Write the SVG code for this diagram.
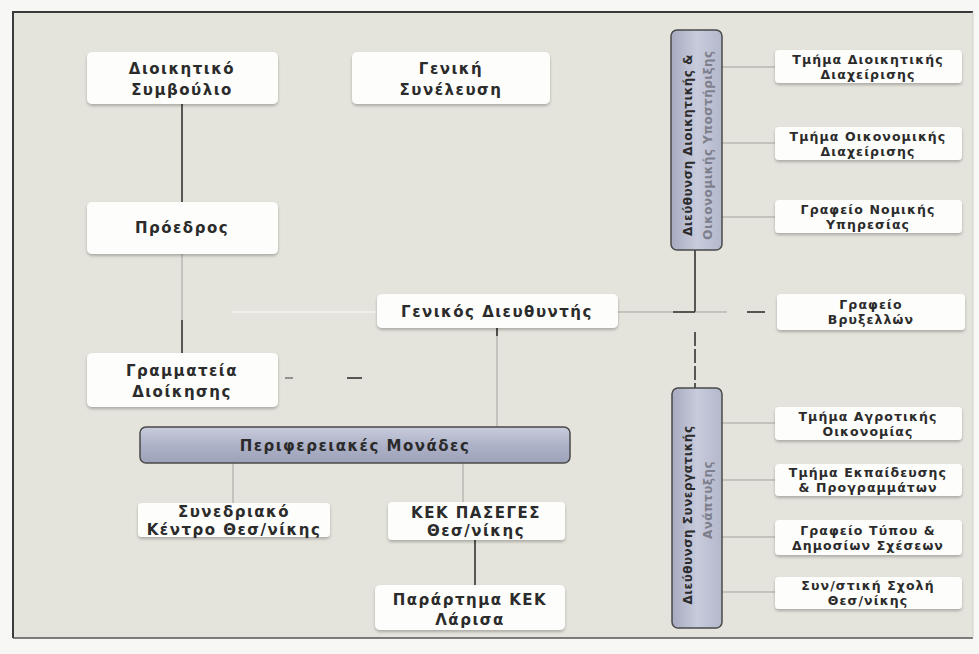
<svg xmlns="http://www.w3.org/2000/svg" width="979" height="654" viewBox="0 0 979 654">
<defs>
<linearGradient id="barH" x1="0" y1="0" x2="0" y2="1">
<stop offset="0" stop-color="#c9ccdc"/>
<stop offset="0.5" stop-color="#aeb2c8"/>
<stop offset="1" stop-color="#9ea2b8"/>
</linearGradient>
<linearGradient id="barV" x1="0" y1="0" x2="1" y2="0">
<stop offset="0" stop-color="#a6aac0"/>
<stop offset="0.5" stop-color="#c8cbdb"/>
<stop offset="1" stop-color="#b4b8cc"/>
</linearGradient>
<filter id="sh" x="-10%" y="-20%" width="120%" height="150%">
<feGaussianBlur in="SourceAlpha" stdDeviation="1.5"/>
<feOffset dx="0" dy="1.5"/>
<feComponentTransfer><feFuncA type="linear" slope="0.25"/></feComponentTransfer>
<feMerge><feMergeNode/><feMergeNode in="SourceGraphic"/></feMerge>
</filter>
</defs>
<style>
.box{fill:#fdfdfb;filter:url(#sh)}
.bar{stroke:#4a4a4a;stroke-width:1.5}
.t{font-family:"DejaVu Sans","Noto Sans",sans-serif;font-weight:bold;fill:#2b2b2b;text-anchor:middle}
.big{font-size:15px;letter-spacing:1.5px}
.sm{font-size:12.5px;letter-spacing:1.1px}
.vt{font-family:"DejaVu Sans","Noto Sans",sans-serif;font-weight:bold;font-size:12px;letter-spacing:0.5px;text-anchor:middle}
.lt{stroke:#a3a3a0;stroke-width:1;fill:none}
.dk{stroke:#333;stroke-width:1.6;fill:none}
.md{stroke:#777;stroke-width:1.5;fill:none}
.wh{stroke:#f1f0ea;stroke-width:2;fill:none}
</style>
<rect x="0" y="0" width="979" height="654" fill="#f7f7f5"/>
<rect x="13" y="12" width="960" height="626" fill="#e4e3dc"/>
<path d="M13 638 V12 H973" fill="none" stroke="#3a3a3a" stroke-width="2"/>
<path d="M13 638 H973" fill="none" stroke="#555" stroke-width="1.5"/>
<path d="M973 12 V638" fill="none" stroke="#cfcfca" stroke-width="1"/>

<g id="connectors">
<line class="wh" x1="232" y1="312" x2="377" y2="312"/>
<line class="dk" x1="182" y1="104" x2="182" y2="202"/>
<line class="lt" x1="182" y1="254" x2="182" y2="320"/>
<line class="dk" x1="182" y1="320" x2="182" y2="353"/>
<line class="md" x1="285" y1="378" x2="293" y2="378"/>
<line class="dk" x1="347" y1="378" x2="362" y2="378"/>
<line class="lt" x1="497" y1="328" x2="497" y2="427"/>
<line class="dk" x1="497" y1="328" x2="497" y2="336"/>
<line class="lt" x1="618" y1="312" x2="673" y2="312"/>
<line class="dk" x1="673" y1="312" x2="695" y2="312"/>
<line class="dk" x1="695" y1="250" x2="695" y2="312"/>
<line class="lt" x1="695" y1="312" x2="727" y2="312"/>
<line class="dk" x1="747" y1="312" x2="765" y2="312"/>
<line class="dk" x1="695" y1="332" x2="695" y2="388" stroke-dasharray="14 3"/>
<line class="lt" x1="722" y1="67" x2="775" y2="67"/>
<line class="lt" x1="722" y1="143" x2="775" y2="143"/>
<line class="lt" x1="722" y1="217" x2="775" y2="217"/>
<line class="lt" x1="722" y1="423" x2="775" y2="423"/>
<line class="lt" x1="722" y1="480" x2="775" y2="480"/>
<line class="lt" x1="722" y1="537" x2="775" y2="537"/>
<line class="lt" x1="722" y1="592" x2="775" y2="592"/>
<line class="lt" x1="233" y1="463" x2="233" y2="503"/>
<line class="lt" x1="463" y1="463" x2="463" y2="502"/>
<line class="dk" x1="475" y1="540" x2="475" y2="585"/>
</g>

<g id="n-dioikitiko">
<rect class="box" x="87" y="52" width="191" height="52" rx="5"/>
<text class="t big" x="182" y="74">Διοικητικό</text>
<text class="t big" x="182" y="95">Συμβούλιο</text>
</g>
<g id="n-geniki">
<rect class="box" x="352" y="52" width="198" height="52" rx="5"/>
<text class="t big" x="451" y="74">Γενική</text>
<text class="t big" x="451" y="95">Συνέλευση</text>
</g>
<g id="n-proedros">
<rect class="box" x="87" y="202" width="191" height="52" rx="5"/>
<text class="t big" x="182" y="233">Πρόεδρος</text>
</g>
<g id="n-grammateia">
<rect class="box" x="87" y="353" width="191" height="54" rx="5"/>
<text class="t big" x="182" y="376">Γραμματεία</text>
<text class="t big" x="182" y="397">Διοίκησης</text>
</g>
<g id="n-gen-dieuth">
<rect class="box" x="377" y="294" width="241" height="34" rx="5"/>
<text class="t big" x="497" y="317">Γενικός Διευθυντής</text>
</g>
<g id="n-perifereiakes">
<rect class="bar" x="140" y="427" width="430" height="36" rx="6" fill="url(#barH)"/>
<text class="t big" x="355" y="451" fill="#333">Περιφερειακές Μονάδες</text>
</g>
<g id="n-synedriako">
<rect class="box" x="138" y="503" width="192" height="34" rx="4"/>
<text class="t big" x="234" y="517">Συνεδριακό</text>
<text class="t big" x="234" y="535">Κέντρο Θεσ/νίκης</text>
</g>
<g id="n-kek">
<rect class="box" x="388" y="502" width="177" height="38" rx="4"/>
<text class="t big" x="476" y="518">ΚΕΚ ΠΑΣΕΓΕΣ</text>
<text class="t big" x="476" y="536">Θεσ/νίκης</text>
</g>
<g id="n-parartima">
<rect class="box" x="375" y="585" width="190" height="45" rx="5"/>
<text class="t big" x="470" y="605">Παράρτημα ΚΕΚ</text>
<text class="t big" x="470" y="625">Λάρισα</text>
</g>
<g id="n-dioik-oikon">
<rect class="bar" x="671" y="30" width="51" height="220" rx="6" fill="url(#barV)"/>
<text class="vt" transform="translate(692 145) rotate(-90)" fill="#2b2b2b">Διεύθυνση Διοικητικής &amp;</text>
<text class="vt" transform="translate(712 145) rotate(-90)" fill="#7d7f8c">Οικονομικής Υποστήριξης</text>
</g>
<g id="n-synerg">
<rect class="bar" x="672" y="388" width="50" height="240" rx="6" fill="url(#barV)"/>
<text class="vt" transform="translate(692 515) rotate(-90)" fill="#2b2b2b">Διεύθυνση Συνεργατικής</text>
<text class="vt" transform="translate(712 500) rotate(-90)" fill="#7d7f8c">Ανάπτυξης</text>
</g>
<g id="n-tm-dioik">
<rect class="box" x="775" y="50" width="187" height="33" rx="4"/>
<text class="t sm" x="868" y="64">Τμήμα Διοικητικής</text>
<text class="t sm" x="868" y="79">Διαχείρισης</text>
</g>
<g id="n-tm-oikon">
<rect class="box" x="775" y="127" width="187" height="33" rx="4"/>
<text class="t sm" x="868" y="141">Τμήμα Οικονομικής</text>
<text class="t sm" x="868" y="156">Διαχείρισης</text>
</g>
<g id="n-nomikis">
<rect class="box" x="775" y="200" width="187" height="33" rx="4"/>
<text class="t sm" x="868" y="214">Γραφείο Νομικής</text>
<text class="t sm" x="868" y="229">Υπηρεσίας</text>
</g>
<g id="n-vryxellon">
<rect class="box" x="777" y="294" width="188" height="36" rx="4"/>
<text class="t sm" x="871" y="309">Γραφείο</text>
<text class="t sm" x="871" y="324">Βρυξελλών</text>
</g>
<g id="n-agrotikis">
<rect class="box" x="775" y="407" width="187" height="33" rx="4"/>
<text class="t sm" x="868" y="421">Τμήμα Αγροτικής</text>
<text class="t sm" x="868" y="436">Οικονομίας</text>
</g>
<g id="n-ekpaideusis">
<rect class="box" x="775" y="464" width="187" height="32" rx="4"/>
<text class="t sm" x="868" y="477">Τμήμα Εκπαίδευσης</text>
<text class="t sm" x="868" y="492">&amp; Προγραμμάτων</text>
</g>
<g id="n-typou">
<rect class="box" x="775" y="520" width="187" height="35" rx="4"/>
<text class="t sm" x="868" y="535">Γραφείο Τύπου &amp;</text>
<text class="t sm" x="868" y="550">Δημοσίων Σχέσεων</text>
</g>
<g id="n-sxoli">
<rect class="box" x="775" y="577" width="187" height="32" rx="4"/>
<text class="t sm" x="868" y="590">Συν/στική Σχολή</text>
<text class="t sm" x="868" y="605">Θεσ/νίκης</text>
</g>
</svg>
